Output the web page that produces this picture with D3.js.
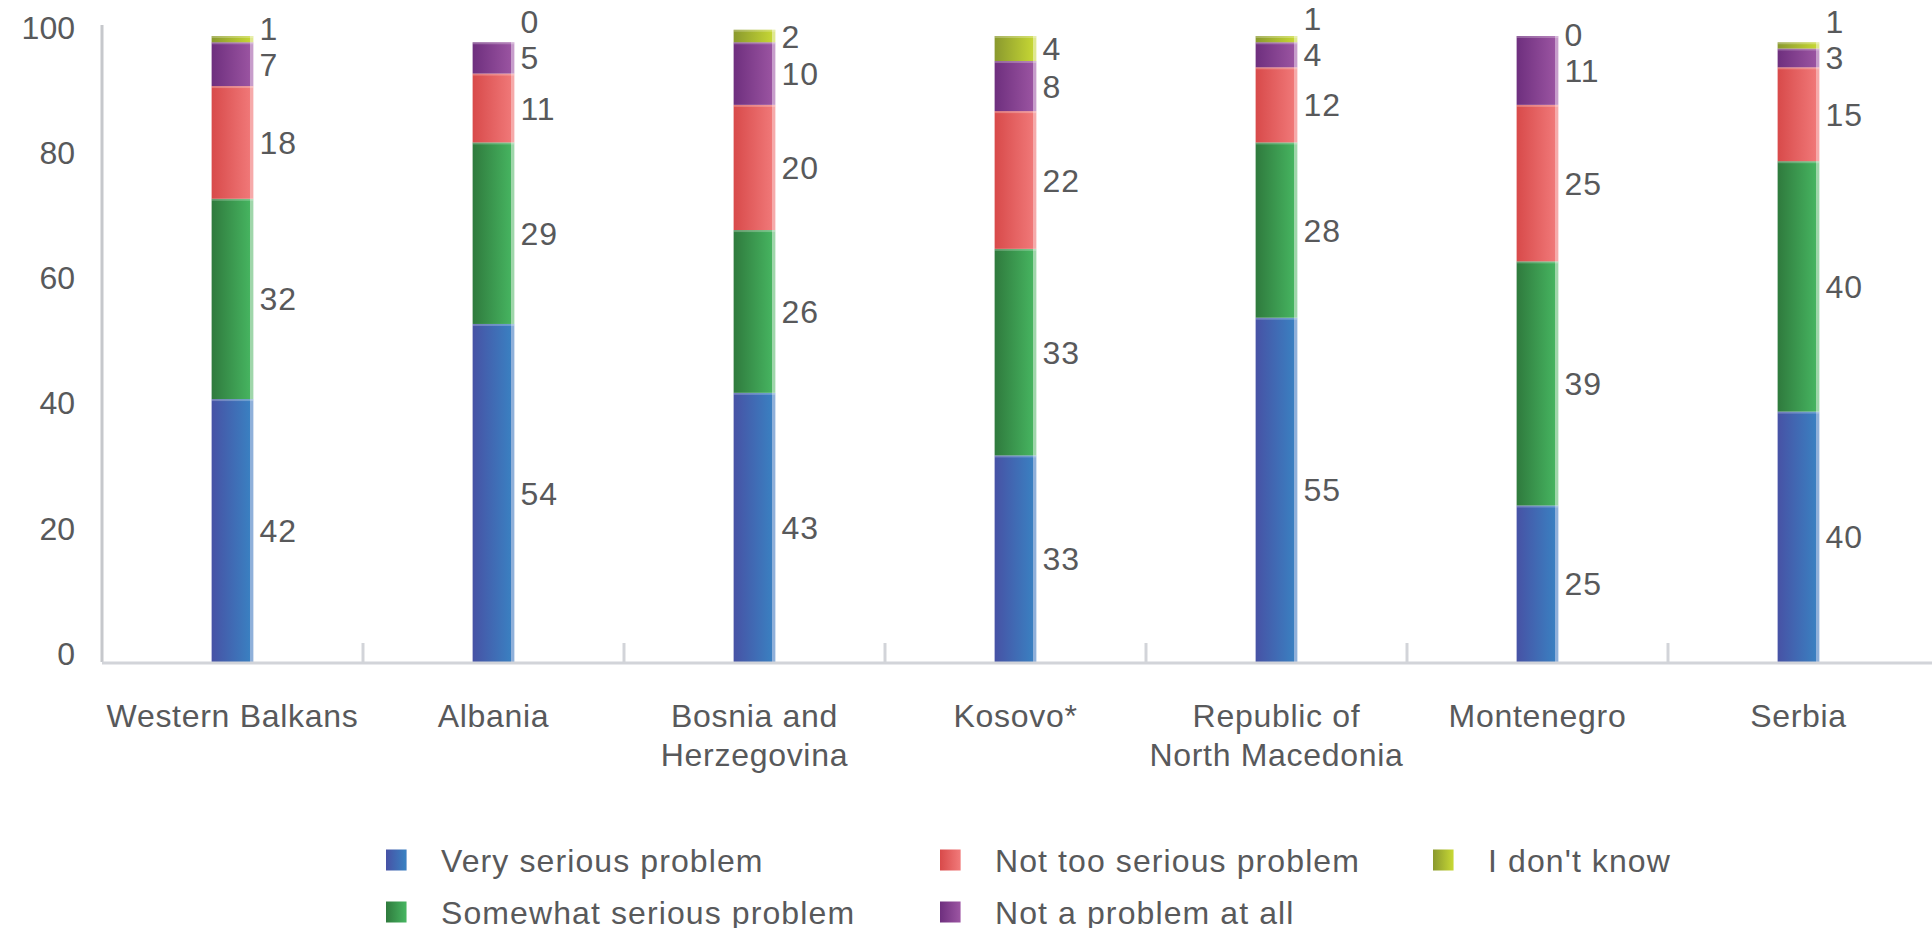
<!DOCTYPE html>
<html>
<head>
<meta charset="utf-8">
<script src="https://cdn.jsdelivr.net/npm/d3@7"></script>
<style>
  body { margin: 0; background: #fff; }
  svg text { font-family: "Liberation Sans", Arial, sans-serif; fill: #58595b; }
</style>
</head>
<body>
<svg id="chart" width="1932" height="928"></svg>
<script>
const categories = ["Western Balkans", "Albania", "Bosnia and\nHerzegovina", "Kosovo*",
  "Republic of\nNorth Macedonia", "Montenegro", "Serbia"];
const seriesNames = ["Very serious problem", "Somewhat serious problem", "Not too serious problem",
  "Not a problem at all", "I don't know"];
const verySerious = [42, 54, 43, 33, 55, 25, 40];
const somewhatSerious = [32, 29, 26, 33, 28, 39, 40];
const notTooSerious = [18, 11, 20, 22, 12, 25, 15];
const notAProblem = [7, 5, 10, 8, 4, 11, 3];
const dontKnow = [1, 0, 2, 4, 1, 0, 1];
const yTicks = [0, 20, 40, 60, 80, 100];

const seriesValues = [verySerious, somewhatSerious, notTooSerious, notAProblem, dontKnow];
// left, right, edge
const palette = [
  ["#4752a5", "#3a80c1", "#8fb0da"],
  ["#2f7a3d", "#46b460", "#9fd6aa"],
  ["#d84a4a", "#f07878", "#f6aaaa"],
  ["#6e2f7e", "#9a54a1", "#c79dcb"],
  ["#8a992e", "#c5d634", "#dfe88f"]
];

const svg = d3.select("#chart");
const left = 102, right = 1929, base = 662;

const x = d3.scaleBand().domain(categories).range([left, right]).padding(0);
const y = d3.scaleLinear().domain([0, 100]).range([base, 36]);

const defs = svg.append("defs");
palette.forEach((c, i) => {
  const g = defs.append("linearGradient").attr("id", "grad" + i)
    .attr("x1", "0%").attr("x2", "100%").attr("y1", "0%").attr("y2", "0%");
  g.append("stop").attr("offset", "0%").attr("stop-color", c[0]);
  g.append("stop").attr("offset", "93%").attr("stop-color", c[1]);
  g.append("stop").attr("offset", "93%").attr("stop-color", c[2]);
  g.append("stop").attr("offset", "100%").attr("stop-color", c[2]);
});

// stack
const rows = categories.map((cat, i) => {
  const r = { cat };
  seriesNames.forEach((s, j) => { r[s] = seriesValues[j][i]; });
  return r;
});
const stacked = d3.stack().keys(seriesNames)(rows);

const barW = x.bandwidth() * 0.16;
const barX = (cat) => x(cat) + (x.bandwidth() - barW) / 2;

// y axis
svg.append("line")
  .attr("x1", left).attr("x2", left).attr("y1", 25).attr("y2", base)
  .attr("stroke", "#c6c8cc").attr("stroke-width", 3);

const yAxis = svg.append("g")
  .attr("transform", `translate(${left},0)`)
  .call(d3.axisLeft(y).tickValues(yTicks).tickSize(0).tickPadding(27));
yAxis.select(".domain").remove();
yAxis.selectAll("text")
  .attr("y", -8)
  .style("font-size", "32px")
  .style("font-family", "'Liberation Sans', Arial, sans-serif")
  .attr("fill", "#58595b");

// bars
stacked.forEach((layer, j) => {
  svg.append("g").selectAll("rect")
    .data(layer)
    .join("rect")
    .attr("x", (d) => barX(d.data.cat))
    .attr("y", (d) => y(d[1]))
    .attr("width", barW)
    .attr("height", (d) => y(d[0]) - y(d[1]))
    .attr("fill", `url(#grad${j})`);
  // faint separator at segment top
  svg.append("g").selectAll("rect")
    .data(layer.filter((d) => d[1] > d[0]))
    .join("rect")
    .attr("x", (d) => barX(d.data.cat))
    .attr("y", (d) => y(d[1]))
    .attr("width", barW)
    .attr("height", 2)
    .attr("fill", "#fff")
    .attr("opacity", 0.25);
});

// x axis
svg.append("line")
  .attr("x1", left).attr("x2", 1932).attr("y1", base + 1).attr("y2", base + 1)
  .attr("stroke", "#d2d4d9").attr("stroke-width", 3);
svg.append("g").selectAll("line")
  .data(categories.slice(1))
  .join("line")
  .attr("x1", (d) => x(d)).attr("x2", (d) => x(d))
  .attr("y1", base - 19).attr("y2", base)
  .attr("stroke", "#d2d4d9").attr("stroke-width", 3);

const catLabels = svg.append("g").selectAll("text")
  .data(categories)
  .join("text")
  .attr("text-anchor", "middle")
  .style("font-size", "32px")
  .style("letter-spacing", "0.7px");
catLabels.each(function (d) {
  const t = d3.select(this);
  d.split("\n").forEach((line, k) => {
    t.append("tspan")
      .attr("x", x(d) + x.bandwidth() / 2)
      .attr("y", 727 + k * 39)
      .text(line);
  });
});

// value labels, pushed up when they would overlap
categories.forEach((cat, i) => {
  let prev = Infinity;
  stacked.forEach((layer) => {
    const d = layer[i];
    const mid = y((d[0] + d[1]) / 2);
    const ly = Math.min(mid, prev - 36);
    prev = ly;
    svg.append("text")
      .attr("x", barX(cat) + barW + 6)
      .attr("y", ly)
      .attr("dy", "0.36em")
      .style("font-size", "32px")
      .style("letter-spacing", "1px")
      .text(d[1] - d[0]);
  });
});

// legend
const legendCols = [386, 940, 1433];
const legendRows = [860, 912];
const legend = svg.append("g").selectAll("g")
  .data(seriesNames)
  .join("g")
  .attr("transform", (d, i) =>
    `translate(${legendCols[Math.floor(i / 2)]},${legendRows[i % 2]})`);
legend.append("rect")
  .attr("x", 0).attr("y", -10.5).attr("width", 21).attr("height", 21)
  .attr("fill", (d, i) => `url(#grad${i})`);
legend.append("text")
  .attr("x", 55).attr("dy", "0.36em")
  .style("font-size", "32px")
  .style("letter-spacing", "1.1px")
  .text((d) => d);
</script>
</body>
</html>
